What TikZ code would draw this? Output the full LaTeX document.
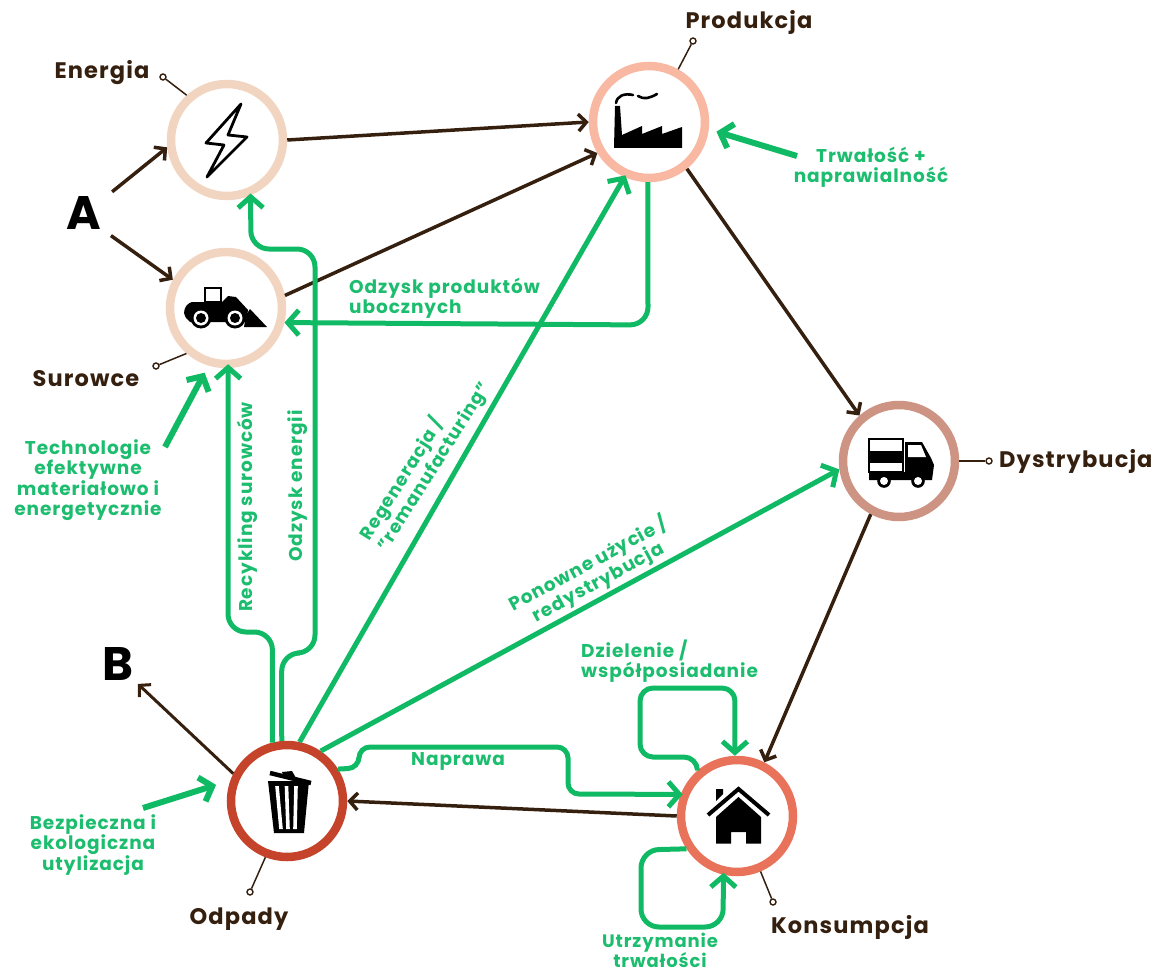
\documentclass[tikz,border=0pt]{standalone}
\usepackage{fontspec}
\setmainfont{Poppins}[BoldFont={Poppins Bold},LetterSpace=5]
\newfontfamily\heavyf{Poppins}[BoldFont={Poppins Bold}]
\usetikzlibrary{arrows.meta}
\definecolor{gr}{HTML}{10B964}
\definecolor{grt}{HTML}{1CBD6E}
\definecolor{br}{HTML}{35200F}
\definecolor{cEn}{HTML}{F2D5C1}
\definecolor{cPr}{HTML}{F8B8A2}
\definecolor{cDy}{HTML}{CD9484}
\definecolor{cOd}{HTML}{C5432A}
\definecolor{cKo}{HTML}{E8735A}
\tikzset{
  ring/.style={circle,draw=#1,line width=8.5pt,minimum size=112pt,inner sep=0pt,fill=white},
  brarrow/.style={draw=br,line width=3.5pt,-{Straight Barb[length=8pt,width=17pt]}},
  grarrow/.style={draw=gr,line width=5pt,-{Straight Barb[length=11pt,width=25pt]}},
  grround/.style={grarrow,rounded corners=18pt},
  title/.style={text=br,font=\bfseries\fontsize{22.5}{26}\selectfont,inner sep=0pt},
  grlabel/.style={text=grt,font=\bfseries\fontsize{18.5}{20.5}\selectfont,inner sep=0pt},
  letter/.style={circle,inner sep=0pt,text=black,font=\heavyf\bfseries\fontsize{47}{47}\selectfont},
  pin/.style={circle,draw=br,line width=1.4pt,inner sep=0pt,minimum size=6pt,fill=white},
  leader/.style={draw=br,line width=1.5pt},
  ic/.style={fill=black,draw=none},
}
\begin{document}
\begin{tikzpicture}[x=1pt,y=-1pt]
\useasboundingbox (0,0) rectangle (1165,971);
% hubs
\node[ring=cEn] (energia) at (227,140) {};
\node[ring=cEn] (surowce) at (226,308) {};
\node[ring=cPr] (produkcja) at (649,122) {};
\node[ring=cDy] (dystrybucja) at (899,461) {};
\node[ring=cOd] (odpady) at (287,801) {};
\node[ring=cKo] (konsumpcja) at (737,816) {};
% letters
\node[letter,minimum size=70pt] (A) at (84,213) {A};
\node[letter,minimum size=56pt] (B) at (118,664) {B};
% free ends
\coordinate (trwStart) at (797,156);
\coordinate (techStart) at (165,447);
\coordinate (bezpStart) at (143,808);
% brown
\draw[brarrow] (A.37) -- (energia.187);
\draw[brarrow] (A.-40) -- (surowce.152);
\draw[brarrow] (energia.east) -- (produkcja.west);
\draw[brarrow] (surowce.12) -- (produkcja.211);
\draw[brarrow] (produkcja.-51) -- (dystrybucja.131);
\draw[brarrow] (dystrybucja.242) -- (konsumpcja.63);
\draw[brarrow] (konsumpcja.west) -- (odpady.east);
\draw[brarrow,line width=3pt] (odpady.153) -- (B.-45);
% green
\draw[grround,shorten >=-4pt] (odpady.104) -- (272.4,632) -- (228,632) -- (surowce.-88);
\draw[grround,shorten >=-2pt] (odpady.95) -- (281.7,653) -- (315,653) -- (315,249) -- (251,249) -- (energia.-67.5);
\draw[grarrow,shorten >=-2pt] (odpady.78) -- (produkcja.246.8);
\draw[grarrow] (odpady.56.6) -- (dystrybucja.188);
\draw[grarrow,rounded corners=11pt,shorten >=-2pt] (odpady.32) -- (359,768) -- (359,747) -- (568,747) -- (568,794) -- (konsumpcja.159);
\draw[grround] (produkcja.-91) -- (648,325) -- (surowce.-14);
\draw[grarrow,rounded corners=13pt] (konsumpcja.131) -- (697,757) -- (640,757) -- (640,688) -- (735,688) -- (konsumpcja.92);
\draw[grround,shorten >=-2pt] (konsumpcja.213) -- (641,850) -- (641,927) -- (723,927) -- (konsumpcja.-103);
\draw[grarrow,line width=6pt,shorten >=8pt] (trwStart) -- (produkcja.-7.5);
\draw[grarrow,line width=6pt,shorten >=8pt] (techStart) -- (surowce.253.7);
\draw[grarrow,line width=6pt,shorten >=15pt] (bezpStart) -- (odpady.160);
% pins + leaders
\node[pin] (pE) at (163,77) {};
\node[pin] (pS) at (156,366) {};
\node[pin] (pP) at (693,41) {};
\node[pin] (pD) at (989,461) {};
\node[pin] (pO) at (250,892) {};
\node[pin] (pK) at (773,902) {};
\draw[leader] (energia.132) -- (pE);
\draw[leader] (surowce.229) -- (pS);
\draw[leader] (produkcja.61) -- (pP);
\draw[leader] (dystrybucja.east) -- (pD);
\draw[leader] (odpady.249) -- (pO);
\draw[leader] (konsumpcja.-67) -- (pK);
% titles
\node[title] (tE) at (102,73) {Energia};
\node[title] (tS) at (86,379) {Surowce};
\node[title] (tP) at (749,22) {Produkcja};
\node[title,anchor=west] (tD) at (999,461) {Dystrybucja};
\node[title] (tO) at (239,919) {Odpady};
\node[title] (tK) at (850,927) {Konsumpcja};
% green labels
\node[grlabel,align=center] (l1) at (871,167) {Trwałość +\\naprawialność};
\node[grlabel,align=left,anchor=west] (l2) at (349,298) {Odzysk produktów\\ubocznych};
\node[grlabel,align=center] (l3) at (88,480) {Technologie\\efektywne\\materiałowo i\\energetycznie};
\node[grlabel,rotate=90] (l4) at (247,507) {Recykling surowców};
\node[grlabel,rotate=90] (l5) at (298,486) {Odzysk energii};
\node[grlabel,align=left,rotate=58,font=\bfseries\fontsize{18}{19}\selectfont] (l6) at (425,461) {Regeneracja /\\"remanufacturing"};
\node[grlabel,align=center,rotate=28.5] (l7) at (593,573) {Ponowne użycie /\\redystrybucja};
\node[grlabel] (l8) at (458,761) {Naprawa};
\node[grlabel,align=left,anchor=west] (l9) at (581,661) {Dzielenie /\\współposiadanie};
\node[grlabel,align=center,font=\bfseries\fontsize{18}{20}\selectfont] (l10) at (660,950) {Utrzymanie\\trwałości};
\node[grlabel,align=center] (l11) at (93,845) {Bezpieczna i\\ekologiczna\\utylizacja};
% icon: bolt
\draw[black,line width=2.8pt,line join=round,fill=white] (241,104) -- (206,143) -- (224,145) -- (207,177) -- (247,137) -- (228,135) -- cycle;
% icon: factory
\fill[ic] (614,148) -- (682,148) -- (682,127) -- (662,134) -- (662,126) -- (642,134) -- (642,126) -- (622,135) -- (620,106) -- (615,106) -- cycle;
\draw[black,line width=2.6pt,line cap=round] (616,103) .. controls (617,96) and (624,93) .. (633,95);
\draw[black,line width=2.6pt,line cap=round] (638,96) .. controls (644,100) and (650,98) .. (657,94);
% icon: loader
\fill[ic] (184,313) .. controls (184,307) and (188,303) .. (192,302) -- (222,302) -- (228,296) -- (236,297) -- (248,310) -- (246,322) -- (190,322) .. controls (187,320) and (185,317) .. (184,313) -- cycle;
\fill[ic] (250,309) -- (267,327) -- (244,327) -- (246,315) -- cycle;
\draw[black,line width=1.6pt,fill=white] (205,288) rectangle (221,302);
\foreach \c in {(201,318),(235,318)}{
  \fill[black] \c circle (10.5);
  \fill[white] \c circle (7.5);
  \fill[black] \c circle (5);
}
% icon: truck
\draw[black,line width=1.4pt,fill=white] (869,439) rectangle (903,472);
\fill[ic] (869,451) rectangle (903,463);
\fill[ic] (869,472) -- (869,480) -- (932,480) -- (934,465) -- (931,458) -- (922,442) -- (905,442) -- (905,472) -- cycle;
\fill[white] (908,445) -- (921,445) -- (926,457) -- (908,457) -- cycle;
\foreach \c in {(884,481),(918,481)}{
  \fill[black] \c circle (6.8);
  \fill[white] \c circle (4);
}
% icon: bin
\fill[ic] (268,781) -- (309,781) -- (304,833) -- (274,833) -- cycle;
\foreach \a/\b in {277/281,286.5/288,296/295}{
  \fill[white] (\a-1.8,786) -- (\a+1.8,786) -- (\b+1.8,829) -- (\b-1.8,829) -- cycle;
}
\draw[black,line width=4.5pt] (270,773) -- (311,783);
\fill[ic] (282,772) -- (292,771) -- (296,778) -- (284,778) -- cycle;
% icon: house
\fill[ic] (716,843.5) -- (716,817) -- (738.5,797) -- (761,817) -- (761,843.5) -- (746,843.5) -- (746,832) -- (731,832) -- (731,843.5) -- cycle;
\draw[black,line width=4pt,miter limit=10] (708,815) -- (738.5,789) -- (769,815);
\fill[ic] (716,789) -- (723,789) -- (723,794) -- (716,801) -- cycle;
\end{tikzpicture}
\end{document}
